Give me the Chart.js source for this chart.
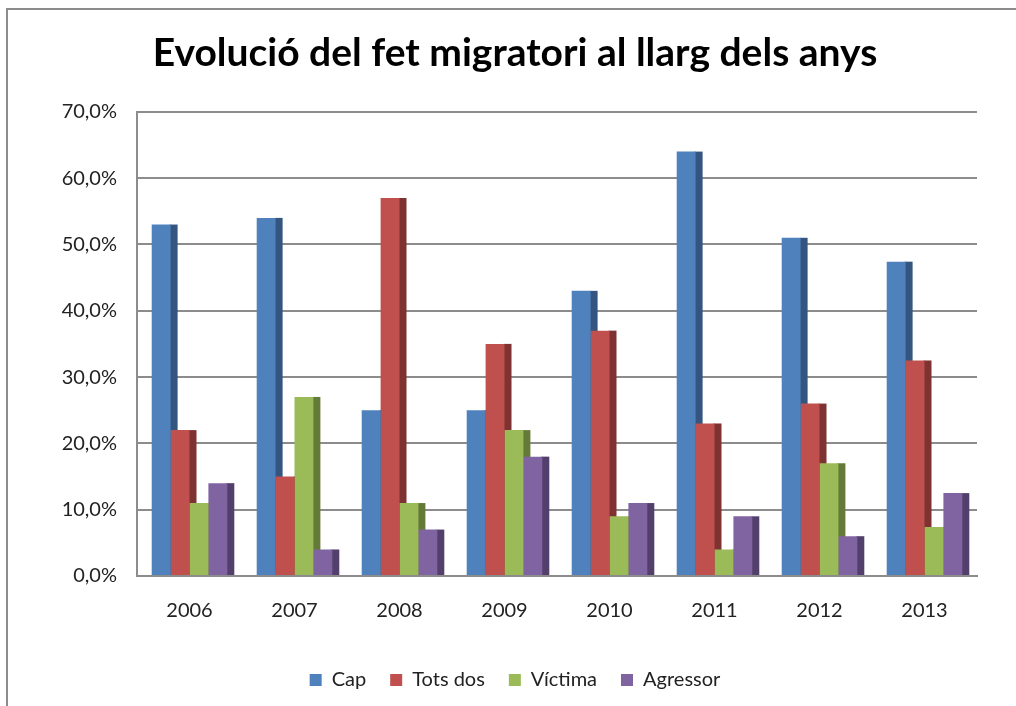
<!DOCTYPE html>
<html>
<head>
<meta charset="utf-8">
<script src="https://cdn.jsdelivr.net/npm/chart.js@4"></script>
<style>
  html, body { margin: 0; padding: 0; background: #fff; }
  #wrap { position: relative; width: 1016px; height: 706px; overflow: hidden; }
  #frame { position: absolute; left: 6px; top: 8px; width: 1100px; height: 800px;
           border-left: 2px solid #8c8c8c; border-top: 2px solid #8c8c8c; }
  canvas { position: absolute; left: 0; top: 0; }
</style>
</head>
<body>
<div id="wrap">
  <div id="frame"></div>
  <canvas id="chart" width="1016" height="706"></canvas>
</div>
<script>
// Chart data (percentages)
const years = ['2006', '2007', '2008', '2009', '2010', '2011', '2012', '2013'];
const cap = [53, 54, 25, 25, 43, 64, 51, 47.4];
const totsDos = [22, 15, 57, 35, 37, 23, 26, 32.5];
const victima = [11, 27, 11, 22, 9, 4, 17, 7.4];
const agressor = [14, 4, 7, 18, 11, 9, 6, 12.5];
const yTicks = [0, 10, 20, 30, 40, 50, 60, 70];

const font = 'Lato, "Open Sans", sans-serif';

// darker right side on each bar, like the 3D look of the original
const sidePlugin = {
    id: 'barSides',
    beforeDatasetsDraw(chart) {
        const ctx = chart.ctx;
        ctx.save();
        chart.data.datasets.forEach((ds, i) => {
            const meta = chart.getDatasetMeta(i);
            meta.data.forEach(bar => {
                const right = bar.x + bar.width / 2;
                ctx.fillStyle = ds.sideColor;
                ctx.fillRect(right - 1, bar.y, 8, bar.base - bar.y);
            });
        });
        ctx.restore();
    }
};

const ctx = document.getElementById('chart').getContext('2d');
new Chart(ctx, {
    type: 'bar',
    data: {
        labels: years,
        datasets: [
            { label: 'Cap', data: cap, backgroundColor: '#4f81bd', sideColor: '#34557f' },
            { label: 'Tots dos', data: totsDos, backgroundColor: '#c0504d', sideColor: '#7e3231' },
            { label: 'Víctima', data: victima, backgroundColor: '#9bbb59', sideColor: '#647a38' },
            { label: 'Agressor', data: agressor, backgroundColor: '#8064a2', sideColor: '#533f6b' }
        ]
    },
    options: {
        responsive: false,
        animation: false,
        layout: { padding: { left: 53, right: 39, top: 0, bottom: 6 } },
        datasets: {
            bar: { categoryPercentage: 0.72, barPercentage: 1.0 }
        },
        scales: {
            x: {
                grid: { display: false, drawTicks: false },
                border: { color: '#8c8c8c', width: 2 },
                ticks: { color: '#222', font: { family: font, size: 20 }, padding: 23 }
            },
            y: {
                min: 0,
                max: 70,
                afterFit(scale) { scale.width = 84; },
                afterBuildTicks(scale) { scale.ticks = yTicks.map(v => ({ value: v })); },
                grid: { color: '#8c8c8c', lineWidth: 2, drawTicks: false },
                border: { color: '#8c8c8c', width: 2 },
                ticks: {
                    color: '#222',
                    font: { family: font, size: 20 },
                    padding: 20,
                    callback: v => v.toFixed(1).replace('.', ',') + '%'
                }
            }
        },
        plugins: {
            title: {
                display: true,
                text: 'Evolució del fet migratori al llarg dels anys',
                color: '#000',
                font: { family: font, size: 39, weight: 'bold' },
                padding: { top: 30, bottom: 35 }
            },
            legend: {
                position: 'bottom',
                labels: {
                    color: '#222',
                    font: { family: font, size: 20 },
                    boxWidth: 12,
                    boxHeight: 12,
                    padding: 24
                }
            },
            tooltip: { enabled: false }
        }
    },
    plugins: [sidePlugin]
});
</script>
</body>
</html>
